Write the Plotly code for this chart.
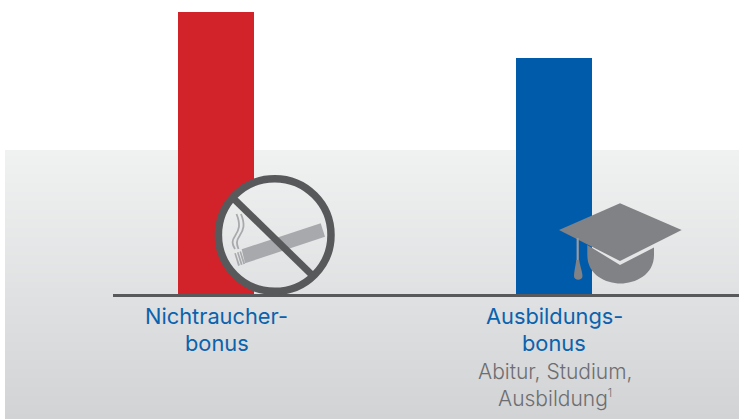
import plotly.graph_objects as go
import math

W, H = 739, 419
BASE_PX = 295.5

categories = ["Nichtraucherbonus", "Ausbildungsbonus"]
values = [283.5, 237.5]  # bar heights (no scale shown)
bar_colors = ["#d2232a", "#005baa"]
title_lines = [["Nichtraucher-", "bonus"], ["Ausbildungs-", "bonus"]]
sub_lines = ["Abitur, Studium,", "Ausbildung<sup><span style=\"font-size:11px\">1</span></sup>"]

FONT = "Inter"
BLUE_TXT = "#0b62ad"
GREY_TXT = "#6d6e71"
ICON_LIGHT = "#a7a9ac"
ICON_DARK = "#58595b"
CAP = "#808285"

def px(x): return x / W
def py(y): return 1 - y / H

def path(pts, close=True):
    s = "M" + " L".join(f"{px(x):.5f},{py(y):.5f}" for x, y in pts)
    return s + (" Z" if close else "")

def grad(y):
    t = max(0, min(1, (y - 150) / (419 - 150)))
    c0, c1 = (240, 241, 241), (210, 211, 213)
    return "rgb(%d,%d,%d)" % tuple(round(a + (b - a) * t) for a, b in zip(c0, c1))

def rect(x0, y0, x1, y1, color, layer="above"):
    return dict(type="rect", xref="paper", yref="paper", x0=px(x0), x1=px(x1),
                y0=py(y0), y1=py(y1), fillcolor=color, line_width=0, layer=layer)

def poly(pts, color):
    return dict(type="path", xref="paper", yref="paper", path=path(pts),
                fillcolor=color, line_width=0, layer="above")

def stroke(pts, color, width):
    return dict(type="path", xref="paper", yref="paper", path=path(pts, False),
                line=dict(color=color, width=width), layer="above")

shapes = []
# panel gradient
for y in range(150, 419, 3):
    shapes.append(rect(5, y, W, y + 3, grad(y + 1), "below"))

# axis line
shapes.append(rect(113, 294, W, 297, ICON_DARK))

# no-smoking sign: interior matches the panel gradient, hides the bar
cx, cy, r = 274.7, 235, 57
for y in range(int(cy - r), int(cy + r), 2):
    d = abs(y + 1 - cy)
    hw = math.sqrt(max(r * r - d * d, 0))
    shapes.append(rect(cx - hw, y, cx + hw, y + 2, grad(y + 1)))
shapes.append(poly([(320.7, 223.3), (325, 236.7), (245, 263.3), (241.7, 249.3)], ICON_LIGHT))
for dx in (0, 2.7, 5.2):
    x0 = 234.3 + dx
    shapes.append(poly([(x0, 253.3 - dx * 0.3), (x0 + 1.5, 252.9 - dx * 0.3),
                        (x0 + 5.6, 265.2 - dx * 0.3), (x0 + 3.8, 265.9 - dx * 0.3)], ICON_LIGHT))
for dx, x_end in ((0, 235), (4.5, 238.5)):
    shapes.append(dict(type="path", xref="paper", yref="paper", layer="above",
        path=f"M{px(236.5+dx)},{py(214)} C{px(241+dx)},{py(225)} {px(239+dx)},{py(230)} {px(235+dx)},{py(236)}"
             f" C{px(231.5+dx)},{py(241)} {px(232+dx)},{py(244)} {px(x_end)},{py(249)}",
        line=dict(color=ICON_LIGHT, width=1.8)))
shapes.append(stroke([(233, 198), (311, 274)], ICON_DARK, 7))
shapes.append(dict(type="circle", xref="paper", yref="paper", layer="above",
                   x0=px(cx - 56.3), x1=px(cx + 56.3), y0=py(cy - 56.3), y1=py(cy + 56.3),
                   line=dict(color=ICON_DARK, width=7.5)))

# graduation cap
shapes.append(dict(type="path", xref="paper", yref="paper", layer="above", fillcolor=CAP, line_width=0,
    path=path([(587.3, 245), (620, 265), (654, 247.5), (654, 255)], False)
         + f" C{px(654)},{py(275)} {px(635)},{py(283.5)} {px(620.5)},{py(283.5)}"
         + f" C{px(606)},{py(283.5)} {px(587.3)},{py(275)} {px(587.3)},{py(255)} Z"))
shapes.append(poly([(620, 203.3), (681.7, 230), (620, 261), (559, 230)], CAP))
shapes.append(stroke([(577.7, 238), (577.7, 262)], "#9a9b9e", 2.2))
shapes.append(dict(type="path", xref="paper", yref="paper", layer="above", fillcolor=CAP, line_width=0,
    path=f"M{px(576.3)},{py(260)} L{px(579.2)},{py(260)} C{px(580)},{py(266)} {px(582.5)},{py(272)} {px(582.5)},{py(276)}"
         f" C{px(582.5)},{py(281)} {px(574)},{py(281)} {px(574)},{py(276)}"
         f" C{px(574)},{py(272)} {px(575.5)},{py(266)} {px(576.3)},{py(260)} Z"))

annotations = []
def label(text, x, y, size, color, weight=400):
    annotations.append(dict(text=text, xref="paper", yref="paper", x=px(x), y=py(y),
                            xanchor="center", yanchor="middle", showarrow=False,
                            font=dict(family=FONT, size=size, color=color, weight=weight)))

label(title_lines[0][0], 216.5, 316, 21.8, BLUE_TXT)
label(title_lines[0][1], 216.5, 343, 21.8, BLUE_TXT)
label(title_lines[1][0], 554, 316, 21.8, BLUE_TXT)
label(title_lines[1][1], 554, 343, 21.8, BLUE_TXT)
label(sub_lines[0], 554.5, 371, 21, GREY_TXT, 300)
label(sub_lines[1], 554.5, 398, 21, GREY_TXT, 300)

# x: categories at 216 px and 554 px; y: zero on the baseline, 1 unit = 1 px
unit = 554 - 216
fig = go.Figure(go.Bar(x=categories, y=values, width=76 / unit,
                       marker=dict(color=bar_colors, line_width=0), hoverinfo="skip"))
fig.update_layout(
    width=W, height=H, autosize=False, margin=dict(l=0, r=0, t=0, b=0),
    paper_bgcolor="white", plot_bgcolor="rgba(0,0,0,0)", showlegend=False,
    shapes=shapes, annotations=annotations,
    xaxis=dict(visible=False, type="category", range=[-216 / unit, (W - 216) / unit]),
    yaxis=dict(visible=False, range=[-(H - BASE_PX), BASE_PX]),
)
fig.write_html("out.html", config=dict(displayModeBar=False),
               post_script="document.body.style.margin='0';document.documentElement.style.overflow='hidden';")
